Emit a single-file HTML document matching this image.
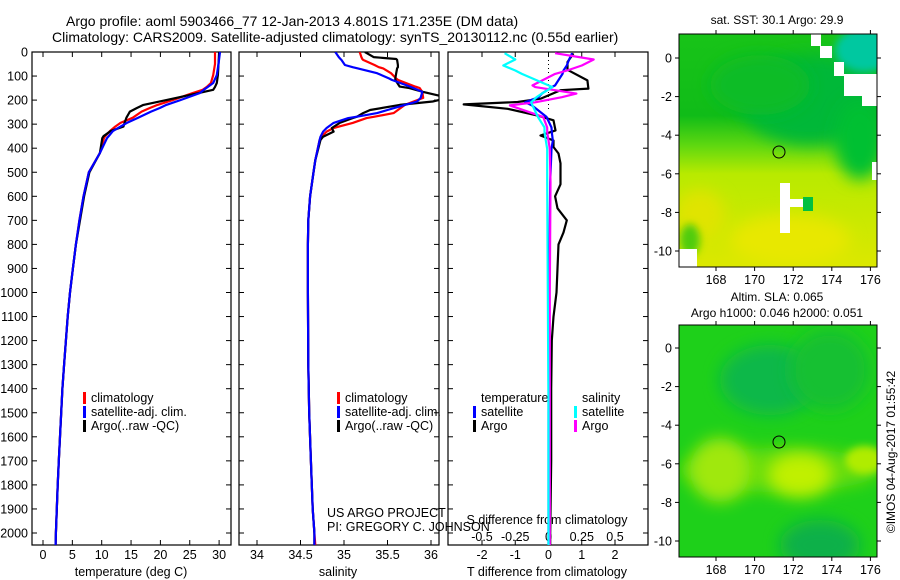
<!DOCTYPE html>
<html><head><meta charset="utf-8">
<style>
body{margin:0;background:#fff;}
svg{display:block;font-family:"Liberation Sans",sans-serif;}
</style></head>
<body>
<svg id="chart" width="900" height="580" viewBox="0 0 900 580" xmlns="http://www.w3.org/2000/svg">
<defs>
<filter id="blur6" x="-50%" y="-50%" width="200%" height="200%"><feGaussianBlur stdDeviation="8"/></filter>
<filter id="blur3" x="-50%" y="-50%" width="200%" height="200%"><feGaussianBlur stdDeviation="4"/></filter>
<clipPath id="cp1"><rect x="32" y="52" width="199" height="493"/></clipPath>
<clipPath id="cp2"><rect x="239" y="52" width="200" height="493"/></clipPath>
<clipPath id="cp3"><rect x="448" y="52" width="200" height="493"/></clipPath>
<clipPath id="cm1"><rect x="679" y="34" width="198" height="233"/></clipPath>
<clipPath id="cm2"><rect x="679" y="325" width="198" height="232"/></clipPath>
<linearGradient id="sstg" x1="0" y1="0" x2="0" y2="1">
<stop offset="0" stop-color="#18c418"/><stop offset="0.35" stop-color="#10bc18"/><stop offset="0.48" stop-color="#60d810"/><stop offset="0.6" stop-color="#b8ea00"/><stop offset="1" stop-color="#dce800"/>
</linearGradient>
</defs>
<g font-size="14" fill="#000">
<text x="66" y="26">Argo profile: aoml 5903466_77 12-Jan-2013 4.801S 171.235E (DM data)</text>
<text x="52" y="42">Climatology: CARS2009. Satellite-adjusted climatology: synTS_20130112.nc (0.55d earlier)</text>
</g>
<g id="axes"></g>
<g id="series"></g>

<g>
<text x="777" y="24" font-size="12" text-anchor="middle">sat. SST: 30.1 Argo: 29.9</text>
<g clip-path="url(#cm1)">
<rect x="679" y="34" width="198" height="233" fill="url(#sstg)"/>
<ellipse cx="810" cy="100" rx="70" ry="45" fill="#00b838" filter="url(#blur6)"/>
<ellipse cx="760" cy="85" rx="50" ry="30" fill="#08bc28" filter="url(#blur6)"/>
<ellipse cx="860" cy="140" rx="25" ry="40" fill="#00c030" filter="url(#blur6)"/>
<ellipse cx="865" cy="50" rx="30" ry="22" fill="#00c8a0" filter="url(#blur3)"/>
<ellipse cx="790" cy="240" rx="60" ry="25" fill="#e8e800" filter="url(#blur6)"/>
<ellipse cx="700" cy="215" rx="25" ry="25" fill="#e0e400" filter="url(#blur6)"/>
<ellipse cx="690" cy="240" rx="10" ry="16" fill="#50cc10" filter="url(#blur3)"/>
<rect x="811" y="34" width="10" height="12" fill="#fff"/>
<rect x="820" y="46" width="12" height="12" fill="#fff"/>
<rect x="834" y="62" width="10" height="14" fill="#fff"/>
<rect x="844" y="74" width="33" height="22" fill="#fff"/>
<rect x="862" y="96" width="15" height="10" fill="#fff"/>
<rect x="872" y="162" width="5" height="18" fill="#fff"/>
<rect x="780" y="183" width="10" height="50" fill="#fff"/>
<rect x="790" y="199" width="14" height="8" fill="#fff"/>
<rect x="803" y="197" width="10" height="14" fill="#00c040"/>
<rect x="679" y="249" width="18" height="18" fill="#fff"/>
</g>
<rect x="679" y="34" width="198" height="233" fill="none" stroke="#000"/>
<circle cx="779" cy="152" r="6" fill="none" stroke="#000"/>
<g id="map1ticks"></g>
</g>

<g>
<text x="777" y="301" font-size="12" text-anchor="middle">Altim. SLA: 0.065</text>
<text x="777" y="317" font-size="12" text-anchor="middle">Argo h1000: 0.046 h2000: 0.051</text>
<g clip-path="url(#cm2)">
<rect x="679" y="325" width="198" height="232" fill="#1ed01a"/>
<ellipse cx="770" cy="380" rx="50" ry="35" fill="#10b848" filter="url(#blur6)"/>
<ellipse cx="830" cy="370" rx="40" ry="40" fill="#18c030" filter="url(#blur6)"/>
<ellipse cx="820" cy="545" rx="40" ry="25" fill="#10b048" filter="url(#blur6)"/>
<ellipse cx="780" cy="470" rx="100" ry="22" fill="#66dd10" filter="url(#blur6)"/>
<ellipse cx="720" cy="470" rx="30" ry="32" fill="#a0e808" filter="url(#blur6)"/>
<ellipse cx="800" cy="475" rx="32" ry="22" fill="#c0f000" filter="url(#blur6)"/>
<ellipse cx="865" cy="460" rx="20" ry="14" fill="#b0ec04" filter="url(#blur3)"/>
</g>
<rect x="679" y="325" width="198" height="232" fill="none" stroke="#000"/>
<circle cx="779" cy="442" r="6" fill="none" stroke="#000"/>
<g id="map2ticks"></g>
</g>
<text transform="translate(895,452) rotate(-90)" font-size="12" text-anchor="middle">©IMOS 04-Aug-2017 01:55:42</text>
</svg>
<script>
const depthT = [0,50,96,129,145,157,171,200,220,233,248,273,295,310,329,350,358,420,500,600,700,800,900,1000,1100,1200,1300,1400,1500,1600,1700,1800,1900,2000,2050];
const tempClim = [29.3,29.3,29.0,28.6,27.9,27.2,25.5,22.1,19.5,18.2,16.8,15.3,13.2,12.3,11.4,10.6,10.4,9.7,7.8,6.9,6.2,5.6,5.1,4.6,4.2,3.9,3.6,3.3,3.1,2.9,2.7,2.5,2.35,2.2,2.15];
const tempSat  = [30.15,29.9,29.6,29.0,28.1,27.4,26.7,23.4,21.0,19.9,18.4,16.2,14.3,13.2,11.9,11.2,10.9,9.7,7.8,6.9,6.2,5.6,5.1,4.6,4.2,3.9,3.6,3.3,3.1,2.9,2.7,2.5,2.35,2.2,2.15];
const tempArgo = [30.0,29.9,29.8,29.6,29.3,29.0,26.5,21.0,17.1,16.0,14.8,14.2,13.9,13.7,11.5,10.3,10.1,9.7,7.9,7.0,6.3,5.6,5.1,4.6,4.2,3.9,3.6,3.3,3.1,2.9,2.7,2.5,2.35,2.2,2.15];

const depthS = [0,21,29,33,54,63,68,88,110,116,144,150,166,191,206,220,241,254,269,275,295,316,331,352,366,450,500,600,700,800,1000,1300,1500,1700,1900,2000,2050];
const salClim = [35.18,35.2,35.21,35.22,35.35,35.4,35.45,35.54,35.6,35.62,35.82,35.87,35.9,35.91,35.8,35.7,35.62,35.57,35.35,35.26,35.1,34.88,34.8,34.74,34.72,34.67,34.65,34.61,34.59,34.585,34.585,34.59,34.6,34.62,34.64,34.66,34.67];
const salSat  = [34.9,34.94,34.96,34.97,35.01,35.1,35.16,35.38,35.52,35.55,35.76,35.8,35.9,35.88,35.84,35.7,35.5,35.38,35.15,35.05,34.88,34.8,34.76,34.73,34.72,34.67,34.65,34.61,34.59,34.585,34.585,34.59,34.6,34.62,34.64,34.66,34.66];
const salArgo = [35.24,35.34,35.6,35.61,35.62,35.62,35.61,35.6,35.59,35.59,35.64,35.75,35.91,36.2,36.02,35.64,35.3,35.22,35.15,35.1,34.95,34.86,34.88,34.76,34.73,34.67,34.65,34.61,34.59,34.585,34.585,34.59,34.6,34.62,34.64,34.66,34.66];

const depthD = [6,42,74,118,152,159,194,208,218,236,264,284,326,347,368,395,422,463,504,550,600,650,700,750,800,900,1000,1100,1200,1400,1700,2000,2050];
const dTArgo = [0.75,0.57,0.57,1.17,1.2,0.36,-0.24,-0.93,-2.55,-1.23,-0.33,0.15,0.21,-0.24,0.15,0.15,0.3,0.36,0.36,0.36,0.2,0.27,0.55,0.45,0.3,0.27,0.24,0.15,0.1,0.08,0.08,0.05,0.05];
const depthDS = [5,31,56,77,91,139,146,173,188,209,222,270,314,333,368,403,540,1000,1500,2050];
const dTSat  = [0.71,0.62,0.55,0.45,0.42,0.2,0.1,-0.2,-0.3,-0.7,-0.5,-0.06,0.09,0.1,0.13,0.09,0.05,0.02,0.0,0.0];
const dSArgo = [0.05,0.34,0.25,0.14,0.05,-0.12,-0.1,0.21,0.1,-0.1,-0.29,-0.04,-0.01,-0.01,0.0,0.01,0.015,0.01,0.01,0.01];
const dSSat  = [-0.33,-0.25,-0.34,-0.25,-0.2,0.0,0.03,-0.05,-0.09,-0.13,-0.12,-0.08,-0.03,-0.03,-0.02,-0.01,-0.01,-0.005,0.0,0.0];

const depthTicks = [0,100,200,300,400,500,600,700,800,900,1000,1100,1200,1300,1400,1500,1600,1700,1800,1900,2000];
const tempTicks = [0,5,10,15,20,25,30];
const salTicks = [34,34.5,35,35.5,36];
const salTickLabels = ["34","34.5","35","35.5","36"];
const dTTicks = [-2,-1,0,1,2];
const dSTicks = [-0.5,-0.25,0,0.25,0.5];
const dSTickLabels = ["-0.5","-0.25","0","0.25","0.5"];
const lonTicks = [168,170,172,174,176];
const latTicks = [0,-2,-4,-6,-8,-10];

const yD = d => 52 + d*0.2405;
const xT = t => 43 + t*5.87;
const xS = s => 257 + (s-34)*87;
const xDT = v => 548.5 + v*33.25;
const xDS = v => 548.5 + v*133;
const lonX = l => 716 + (l-168)*19.3;
const latY1 = l => 58 - l*19.3;
const latY2 = l => 348 - l*19.3;

const NS = "http://www.w3.org/2000/svg";
function mk(tag, attrs, parent){
  const e = document.createElementNS(NS, tag);
  for (const k in attrs) e.setAttribute(k, attrs[k]);
  parent.appendChild(e); return e;
}
const axes = document.getElementById('axes');
const series = document.getElementById('series');

const panels = [[32,231,'temperature-panel'],[239,439,'salinity-panel'],[448,648,'difference-panel']];
panels.forEach(p=>{
  const r = mk('rect',{x:p[0],y:52,width:p[1]-p[0],height:493,fill:'none',stroke:'#000','stroke-width':1.2},axes);
  
  
});
depthTicks.forEach(d=>{
  const t = mk('text',{x:28,y:yD(d)+4.5,'font-size':12.5,'text-anchor':'end'},axes);
  t.textContent = d;
  
  
  panels.forEach(p=>{
    mk('line',{x1:p[0],x2:p[0]+5,y1:yD(d),y2:yD(d),stroke:'#000'},axes);
    mk('line',{x1:p[1]-5,x2:p[1],y1:yD(d),y2:yD(d),stroke:'#000'},axes);
  });
});
function xticks(vals, labels, fx, ly, name){
  vals.forEach((v,i)=>{
    const x = fx(v);
    mk('line',{x1:x,x2:x,y1:545,y2:540,stroke:'#000'},axes);
    mk('line',{x1:x,x2:x,y1:52,y2:57,stroke:'#000'},axes);
    const t = mk('text',{x:x,y:ly,'font-size':12.5,'text-anchor':'middle'},axes);
    t.textContent = labels[i];
    
    
  });
}
xticks(tempTicks, tempTicks, xT, 559, 'temperature-tick-label');
xticks(salTicks, salTickLabels, xS, 559, 'salinity-tick-label');
xticks(dTTicks, dTTicks, xDT, 559, 'tdiff-tick-label');
dSTicks.forEach((v,i)=>{
  const t = mk('text',{x:xDS(v),y:541,'font-size':12.5,'text-anchor':'middle'},axes);
  t.textContent = dSTickLabels[i];
  
  
});
function label(x,y,txt,name,anchor){
  const t = mk('text',{x:x,y:y,'font-size':12.5,'text-anchor':anchor||'middle'},axes);
  t.textContent = txt;
  
  
}
label(131,576,'temperature (deg C)','temperature-axis-title');
label(338,576,'salinity','salinity-axis-title');
label(547,576,'T difference from climatology','tdiff-axis-title');
label(547,524,'S difference from climatology','sdiff-axis-title');
label(327,517,'US ARGO PROJECT','project-credit','start');
label(327,531,'PI: GREGORY C. JOHNSON','pi-credit','start');
mk('line',{x1:xDT(0),x2:xDT(0),y1:52,y2:110,stroke:'#000','stroke-dasharray':'1,3'},axes);

function line(xs, ds, fx, color, clip, name, w){
  const pts = xs.map((v,i)=>fx(v).toFixed(1)+','+yD(ds[i]).toFixed(1)).join(' ');
  const g = mk('polyline',{points:pts,fill:'none',stroke:color,'stroke-width':w||2.2,'stroke-linejoin':'round','clip-path':'url(#'+clip+')'},series);
  
  
}
line(tempClim, depthT, xT, '#ff0000','cp1','temp-climatology-line');
line(tempArgo, depthT, xT, '#000000','cp1','temp-argo-line');
line(tempSat, depthT, xT, '#0000ff','cp1','temp-satellite-line');
line(salClim, depthS, xS, '#ff0000','cp2','sal-climatology-line');
line(salArgo, depthS, xS, '#000000','cp2','sal-argo-line');
line(salSat, depthS, xS, '#0000ff','cp2','sal-satellite-line');
line(dTArgo, depthD, xDT, '#000000','cp3','tdiff-argo-line');
line(dTSat, depthDS, xDT, '#0000ff','cp3','tdiff-satellite-line');
line(dSArgo, depthDS, xDS, '#ff00ff','cp3','sdiff-argo-line');
line(dSSat, depthDS, xDS, '#00ffff','cp3','sdiff-satellite-line');

function legend(x, y, entries, name){
  entries.forEach((e,i)=>{
    const yy = y + i*14;
    mk('rect',{x:x,y:yy-10,width:3,height:12,fill:e[1]},axes);
    const t = mk('text',{x:x+8,y:yy,'font-size':12.5},axes);
    t.textContent = e[0];
    
    
  });
}
legend(83,402,[['climatology','#f00'],['satellite-adj. clim.','#00f'],['Argo(..raw -QC)','#000']],'temp-legend');
legend(337,402,[['climatology','#f00'],['satellite-adj. clim.','#00f'],['Argo(..raw -QC)','#000']],'sal-legend');
label(481,402,'temperature','diff-legend-temp-header','start');
label(582,402,'salinity','diff-legend-sal-header','start');
legend(473,416,[['satellite','#00f'],['Argo','#000']],'diff-legend-temp');
legend(574,416,[['satellite','#0ff'],['Argo','#f0f']],'diff-legend-sal');

function mapTicks(gid, ly, top, bottom){
  const g = document.getElementById(gid);
  lonTicks.forEach(l=>{
    const x = lonX(l);
    mk('line',{x1:x,x2:x,y1:bottom,y2:bottom+4,stroke:'#000'},g);
    mk('line',{x1:x,x2:x,y1:top,y2:top-4,stroke:'#000'},g);
    const t = mk('text',{x:x,y:bottom+17,'font-size':12.5,'text-anchor':'middle'},g);
    t.textContent = l;
    
    
  });
  latTicks.forEach(l=>{
    const y = ly(l);
    mk('line',{x1:675,x2:679,y1:y,y2:y,stroke:'#000'},g);
    mk('line',{x1:877,x2:881,y1:y,y2:y,stroke:'#000'},g);
    const t = mk('text',{x:672,y:y+4.5,'font-size':12.5,'text-anchor':'end'},g);
    t.textContent = l;
    
    
  });
}
mapTicks('map1ticks', latY1, 34, 267);
mapTicks('map2ticks', latY2, 325, 557);
</script>
</body></html>
